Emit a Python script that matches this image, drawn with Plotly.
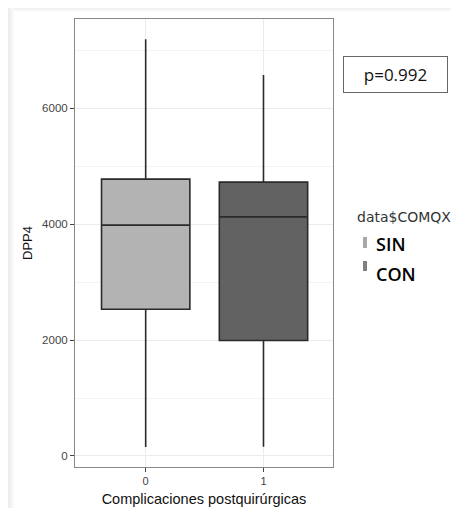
import plotly.graph_objects as go

# Data
categories = [0, 1]
tick_labels = ["0", "1"]
group_names = ["SIN", "CON"]
lower_whisker = [155, 160]
q1_vals = [2531, 1991]
median_vals = [3981, 4124]
q3_vals = [4775, 4723]
upper_whisker = [7185, 6570]
fill_colors = ["#b3b3b3", "#626262"]
p_text = "p=0.992"

OFF = 8  # browser body margin
W, H = 459 - OFF, 508 - OFF
L, R, T, B = 75 - OFF, 333 - OFF, 19 - OFF, 467 - OFF


def px_x(p):
    # p given in page pixels
    return (p - OFF - L) / (R - L)


def px_y(p):
    return (B - (p - OFF)) / (B - T)


fig = go.Figure()
for i, cat in enumerate(categories):
    fig.add_trace(go.Box(
        x=[cat],
        lowerfence=[lower_whisker[i]],
        q1=[q1_vals[i]],
        median=[median_vals[i]],
        q3=[q3_vals[i]],
        upperfence=[upper_whisker[i]],
        width=0.75,
        whiskerwidth=0,
        fillcolor=fill_colors[i],
        line=dict(color="#2a2a2a", width=1.6),
        name=group_names[i],
        showlegend=False,
        boxpoints=False,
        hoverinfo="skip",
    ))

shapes = []
# subtle shadow of the screenshot frame (left strip and top strip)
shadow_left = [("#ededed", 8, 10), ("#f3f3f3", 10, 12), ("#f9f9f9", 12, 14)]
for col, a, b in shadow_left:
    shapes.append(dict(type="rect", xref="paper", yref="paper",
                       x0=px_x(a), x1=px_x(b), y0=px_y(508), y1=px_y(8),
                       fillcolor=col, line=dict(width=0), layer="below"))
shadow_top = [("#f0f0f0", 8, 9), ("#f6f6f6", 9, 11)]
for col, a, b in shadow_top:
    shapes.append(dict(type="rect", xref="paper", yref="paper",
                       x0=px_x(14), x1=px_x(459), y0=px_y(b), y1=px_y(a),
                       fillcolor=col, line=dict(width=0), layer="below"))

# legend keys
for i, (y0, y1) in enumerate([(237, 248), (261, 271)]):
    shapes.append(dict(type="rect", xref="paper", yref="paper",
                       x0=px_x(363), x1=px_x(367), y0=px_y(y1), y1=px_y(y0),
                       fillcolor=["#a8a8a8", "#808080"][i], line=dict(width=0)))

annotations = [
    dict(text=p_text, xref="paper", yref="paper", x=px_x(395.5), y=px_y(74.5),
         showarrow=False, font=dict(family="Open Sans", size=17, color="#111"),
         bordercolor="#666", borderwidth=1, borderpad=0, bgcolor="white",
         width=103, height=35, align="center", valign="middle",
         xanchor="center", yanchor="middle"),
    dict(text="data$COMQX", xref="paper", yref="paper", x=px_x(355), y=px_y(217),
         showarrow=False, font=dict(family="DejaVu Sans", size=14, color="#333"),
         xanchor="left", yanchor="middle"),
    dict(text=group_names[0], xref="paper", yref="paper", x=px_x(374), y=px_y(244),
         showarrow=False, font=dict(family="Open Sans", size=18, color="#000", weight=600),
         xanchor="left", yanchor="middle"),
    dict(text=group_names[1], xref="paper", yref="paper", x=px_x(374), y=px_y(274),
         showarrow=False, font=dict(family="Open Sans", size=18, color="#000", weight=600),
         xanchor="left", yanchor="middle"),
]

fig.update_layout(
    width=W, height=H,
    margin=dict(l=L, r=W - R, t=T, b=H - B, autoexpand=False),
    paper_bgcolor="white", plot_bgcolor="white",
    shapes=shapes, annotations=annotations,
    font=dict(family="Liberation Sans"),
    xaxis=dict(
        range=[-0.6, 1.59], tickmode="array", tickvals=categories, ticktext=tick_labels,
        showgrid=True, gridcolor="#ebebeb", gridwidth=1, zeroline=False,
        ticks="outside", ticklen=4, tickcolor="#444", tickfont=dict(size=11, color="#444"),
        showline=True, linecolor="#888", linewidth=1, mirror=True, automargin=False,
        title=dict(text="Complicaciones postquirúrgicas", font=dict(size=14.5, color="#111"), standoff=7),
    ),
    yaxis=dict(
        range=[-190, 7536], tickvals=[0, 2000, 4000, 6000],
        showgrid=True, gridcolor="#ebebeb", gridwidth=1, zeroline=False,
        minor=dict(tickvals=[1000, 3000, 5000, 7000], showgrid=True, gridcolor="#f3f3f3", ticks=""),
        ticks="outside", ticklen=4, tickcolor="#444", tickfont=dict(size=11.5, color="#444"),
        showline=True, linecolor="#888", linewidth=1, mirror=True, automargin=False,
        title=dict(text="DPP4", font=dict(size=13, color="#111"), standoff=6),
    ),
)

fig.write_html("out.html")
